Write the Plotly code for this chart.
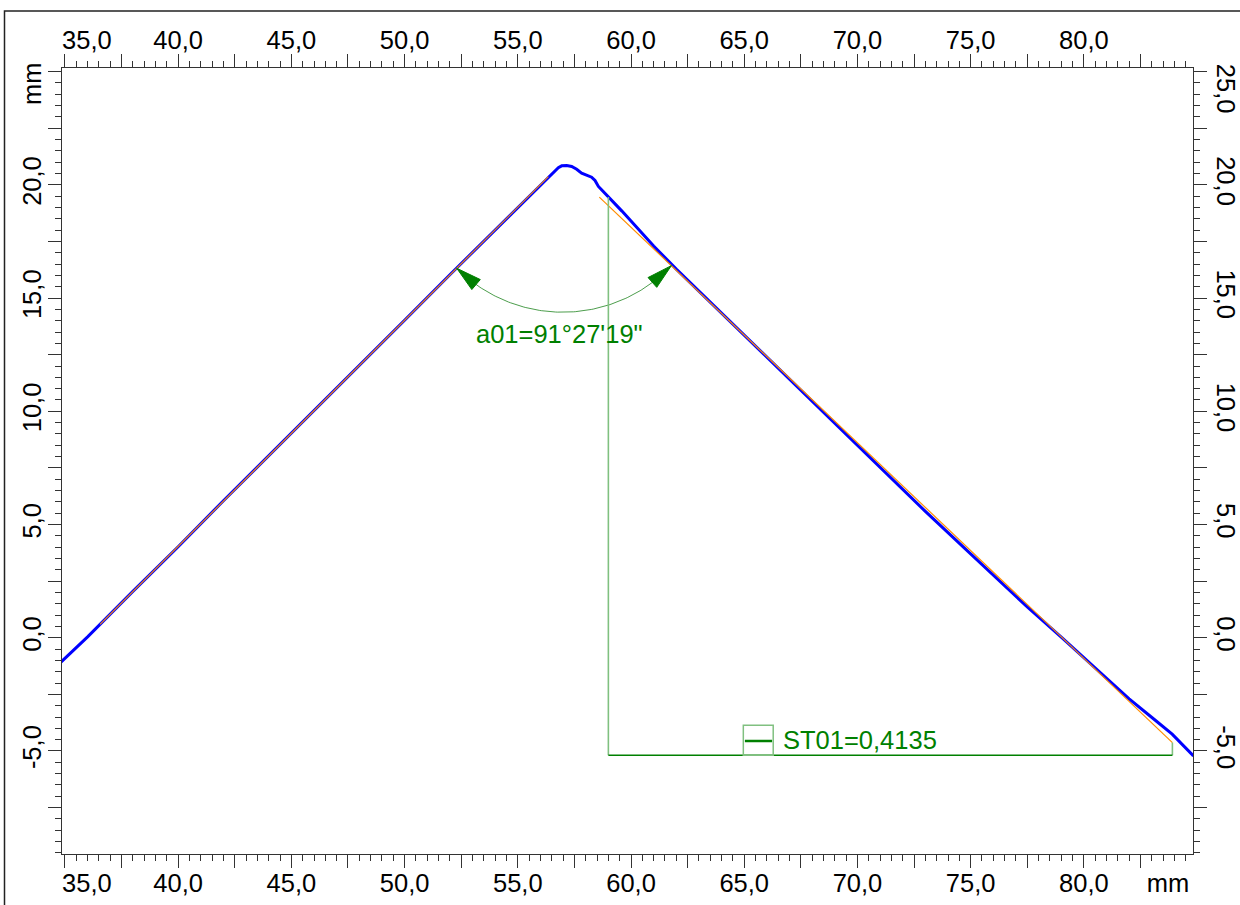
import numpy as np
import plotly.graph_objects as go

# ---------------- data ----------------
profile_x = [34.82, 36.0, 38.0, 40.0, 42.0, 44.0, 46.0, 48.0, 50.0, 52.0, 54.0, 55.5,
             56.0, 56.3, 56.64, 56.79, 56.94, 57.16, 57.38, 57.60, 57.82, 58.04, 58.26,
             58.41, 58.56, 58.70, 58.85, 59.2, 59.6, 60.2, 61.0, 62.0, 63.4, 65.0, 67.0,
             69.0, 71.0, 73.0, 75.0, 76.3, 77.5, 79.1, 80.5, 82.0, 83.1, 83.9, 84.84]
profile_y = [-1.08, 0.04, 2.05, 4.02, 6.05, 8.04, 10.01, 12.04, 14.02, 16.03, 18.00, 19.50,
             20.01, 20.30, 20.63, 20.76, 20.84, 20.85, 20.81, 20.69, 20.52, 20.44, 20.34,
             20.19, 19.93, 19.78, 19.63, 19.28, 18.84, 18.18, 17.30, 16.28, 14.92, 13.32, 11.38,
             9.45, 7.50, 5.58, 3.70, 2.50, 1.36, -0.06, -1.35, -2.70, -3.60, -4.26, -5.22]

fit_left_x = [36.55, 56.35]
fit_left_y = [0.59, 20.36]
fit_right_x = [58.60, 83.91]
fit_right_y = [19.46, -4.63]

angle_label = "a01=91°27'19\""
st_label = "ST01=0,4135"

x_label_vals = [40, 45, 50, 55, 60, 65, 70, 75, 80]
x_label_text = ["40,0", "45,0", "50,0", "55,0", "60,0", "65,0", "70,0", "75,0", "80,0"]
y_label_vals = [-5, 0, 5, 10, 15, 20]
y_label_text = ["-5,0", "0,0", "5,0", "10,0", "15,0", "20,0"]
x_major_vals = [35, 37.5, 40, 42.5, 45, 47.5, 50, 52.5, 55, 57.5, 60, 62.5, 65, 67.5,
                70, 72.5, 75, 77.5, 80, 82.5]
y_major_vals = [-7.5, -5, -2.5, 0, 2.5, 5, 7.5, 10, 12.5, 15, 17.5, 20, 22.5, 25]

# ---------------- layout constants ----------------
X_RANGE = [34.87, 84.82]
Y_RANGE = [-9.55, 25.16]
W, H = 1240, 905
ML, MR, MT, MB = 62, 47, 68, 51
FONT = "Liberation Sans, Arial, sans-serif"
FS = 25.5
AX = "#333333"
GREEN = "#008000"
LGREEN = "#80c080"
BLUE = "#0000ff"
ORANGE = "#ff8c00"

ARC_R = 6.62
ARROW_L = 1.12
ARROW_HW = 0.29
A01_POS = (56.86, 13.43)
ST_BASE_Y = -5.19
ST_LEFT_X = 59.0
ST_BOX = (64.96, 66.28, -3.86)
ST_LINE_Y = -4.56
ST_TEXT = (66.62, -4.50)

# label standoff corrections (px)
SO_TOP, SO_BOT, SO_LEFT, SO_RIGHT = -5, -7, -3, 0

# special labels (shifted from their ticks in the reference)
top_extra_vals, top_extra_text = [35.97], ["35,0"]
bot_extra_vals, bot_extra_text = [35.97, 83.72], ["35,0", "mm"]
left_extra_vals, left_extra_text = [24.30], ["mm"]
right_extra_vals, right_extra_text = [24.08], ["25,0"]


def lab(vals, lv, lt):
    d = dict(zip(lv, lt))
    return [d.get(v, "") for v in vals]


fig = go.Figure()

fig.add_trace(go.Scatter(x=profile_x, y=profile_y, mode="lines",
                         line=dict(color=BLUE, width=3), hoverinfo="skip"))
fig.add_trace(go.Scatter(x=fit_left_x, y=fit_left_y, mode="lines",
                         line=dict(color=ORANGE, width=1.2), hoverinfo="skip"))
fig.add_trace(go.Scatter(x=fit_right_x, y=fit_right_y, mode="lines",
                         line=dict(color=ORANGE, width=1.2), hoverinfo="skip"))

# ---- angle arc a01 ----
sL = (fit_left_y[1] - fit_left_y[0]) / (fit_left_x[1] - fit_left_x[0])
sR = (fit_right_y[1] - fit_right_y[0]) / (fit_right_x[1] - fit_right_x[0])
cx = (fit_right_y[0] - sR * fit_right_x[0] - fit_left_y[0] + sL * fit_left_x[0]) / (sL - sR)
cy = fit_left_y[0] + sL * (cx - fit_left_x[0])
th1 = np.pi + np.arctan(sL)
th2 = 2 * np.pi + np.arctan(sR)
t = np.linspace(th1, th2, 120)
fig.add_trace(go.Scatter(x=cx + ARC_R * np.cos(t), y=cy + ARC_R * np.sin(t), mode="lines",
                         line=dict(color="rgba(0,115,0,0.7)", width=1), hoverinfo="skip"))
d = ARROW_L / ARC_R
for th_tip, th_base in [(th1, th1 + d), (th2, th2 - d)]:
    tip = np.array([cx + ARC_R * np.cos(th_tip), cy + ARC_R * np.sin(th_tip)])
    base = np.array([cx + ARC_R * np.cos(th_base), cy + ARC_R * np.sin(th_base)])
    u = (tip - base) / np.linalg.norm(tip - base)
    n = np.array([-u[1], u[0]])
    b1 = base + ARROW_HW * n
    b2 = base - ARROW_HW * n
    fig.add_trace(go.Scatter(x=[tip[0], b1[0], b2[0], tip[0]], y=[tip[1], b1[1], b2[1], tip[1]],
                             mode="lines", fill="toself", fillcolor=GREEN,
                             line=dict(color=GREEN, width=1), hoverinfo="skip"))

# ---- ST01 construction ----
fig.add_trace(go.Scatter(x=[ST_LEFT_X, ST_LEFT_X], y=[fit_right_y[0], ST_BASE_Y], mode="lines",
                         line=dict(color=LGREEN, width=1.6), hoverinfo="skip"))
fig.add_trace(go.Scatter(x=[fit_right_x[1], fit_right_x[1]], y=[ST_BASE_Y, fit_right_y[1]],
                         mode="lines", line=dict(color=LGREEN, width=1.6), hoverinfo="skip"))
fig.add_trace(go.Scatter(x=[ST_LEFT_X, fit_right_x[1]], y=[ST_BASE_Y, ST_BASE_Y], mode="lines",
                         line=dict(color=GREEN, width=1.3), hoverinfo="skip"))
fig.add_shape(type="rect", xref="x", yref="y", x0=ST_BOX[0], x1=ST_BOX[1], y0=ST_BASE_Y,
              y1=ST_BOX[2], line=dict(color=LGREEN, width=1.5))
fig.add_shape(type="line", xref="x", yref="y", x0=ST_BOX[0] + 0.07, x1=ST_BOX[1] - 0.05,
              y0=ST_LINE_Y, y1=ST_LINE_Y, line=dict(color=GREEN, width=2.5))

fig.add_annotation(x=A01_POS[0], y=A01_POS[1], xref="x", yref="y", text=angle_label,
                   showarrow=False, xanchor="center", yanchor="middle",
                   font=dict(family=FONT, size=FS, color=GREEN))
fig.add_annotation(x=ST_TEXT[0], y=ST_TEXT[1], xref="x", yref="y", text=st_label,
                   showarrow=False, xanchor="left", yanchor="middle",
                   font=dict(family=FONT, size=FS, color=GREEN))

# dummy traces so that overlay axes are drawn
for xa, ya in [("x2", "y"), ("x3", "y"), ("x4", "y"), ("x", "y2"), ("x", "y3"), ("x", "y4")]:
    fig.add_trace(go.Scatter(x=[X_RANGE[0]], y=[Y_RANGE[0]], xaxis=xa, yaxis=ya, mode="markers",
                             marker=dict(opacity=0), hoverinfo="skip"))

tf = dict(family=FONT, size=FS, color="black")
minor = dict(ticks="outside", ticklen=6, tickwidth=1, tickcolor=AX, dtick=0.5, tick0=0,
             showgrid=False)
base_ax = dict(showline=True, linecolor=AX, linewidth=1.3, ticks="outside", ticklen=13,
               tickwidth=1.3, tickcolor=AX, showgrid=False, zeroline=False, tickfont=tf,
               tickmode="array", minor=minor, automargin=False)
ghost = dict(showline=False, ticks="outside", ticklen=13, tickcolor="rgba(0,0,0,0)",
             showgrid=False, zeroline=False, tickfont=tf, tickmode="array", automargin=False)

fig.update_layout(
    width=W, height=H, margin=dict(l=ML, r=MR, t=MT, b=MB, pad=0, autoexpand=False),
    paper_bgcolor="white", plot_bgcolor="white", showlegend=False,
    xaxis=dict(range=X_RANGE, side="bottom", anchor="y", tickvals=x_major_vals,
               ticktext=lab(x_major_vals, x_label_vals, x_label_text),
               ticklabelstandoff=SO_BOT, **base_ax),
    xaxis2=dict(range=X_RANGE, side="top", anchor="y", overlaying="x", tickvals=x_major_vals,
                ticktext=lab(x_major_vals, x_label_vals, x_label_text),
                ticklabelstandoff=SO_TOP, **base_ax),
    xaxis3=dict(range=X_RANGE, side="top", anchor="y", overlaying="x",
                tickvals=top_extra_vals, ticktext=top_extra_text,
                ticklabelstandoff=SO_TOP, **ghost),
    xaxis4=dict(range=X_RANGE, side="bottom", anchor="y", overlaying="x",
                tickvals=bot_extra_vals, ticktext=bot_extra_text,
                ticklabelstandoff=SO_BOT, **ghost),
    yaxis=dict(range=Y_RANGE, side="left", anchor="x", tickvals=y_major_vals, tickangle=-90,
               ticktext=lab(y_major_vals, y_label_vals, y_label_text),
               ticklabelstandoff=SO_LEFT, **base_ax),
    yaxis2=dict(range=Y_RANGE, side="right", anchor="x", overlaying="y", tickvals=y_major_vals,
                tickangle=90, ticktext=lab(y_major_vals, y_label_vals, y_label_text),
                ticklabelstandoff=SO_RIGHT, **base_ax),
    yaxis3=dict(range=Y_RANGE, side="left", anchor="x", overlaying="y", tickangle=-90,
                tickvals=left_extra_vals, ticktext=left_extra_text,
                ticklabelstandoff=SO_LEFT, **ghost),
    yaxis4=dict(range=Y_RANGE, side="right", anchor="x", overlaying="y", tickangle=90,
                tickvals=right_extra_vals, ticktext=right_extra_text,
                ticklabelstandoff=SO_RIGHT, **ghost),
)

# outer frame
pw, ph = W - ML - MR, H - MT - MB
fig.add_shape(type="rect", xref="paper", yref="paper",
              x0=(4.5 - ML) / pw, x1=(W + 10 - ML) / pw,
              y0=(H - MB - (H + 10)) / ph, y1=(H - MB - 11) / ph,
              line=dict(color="#222222", width=1.5), layer="above")

fig.write_html("out.html")
